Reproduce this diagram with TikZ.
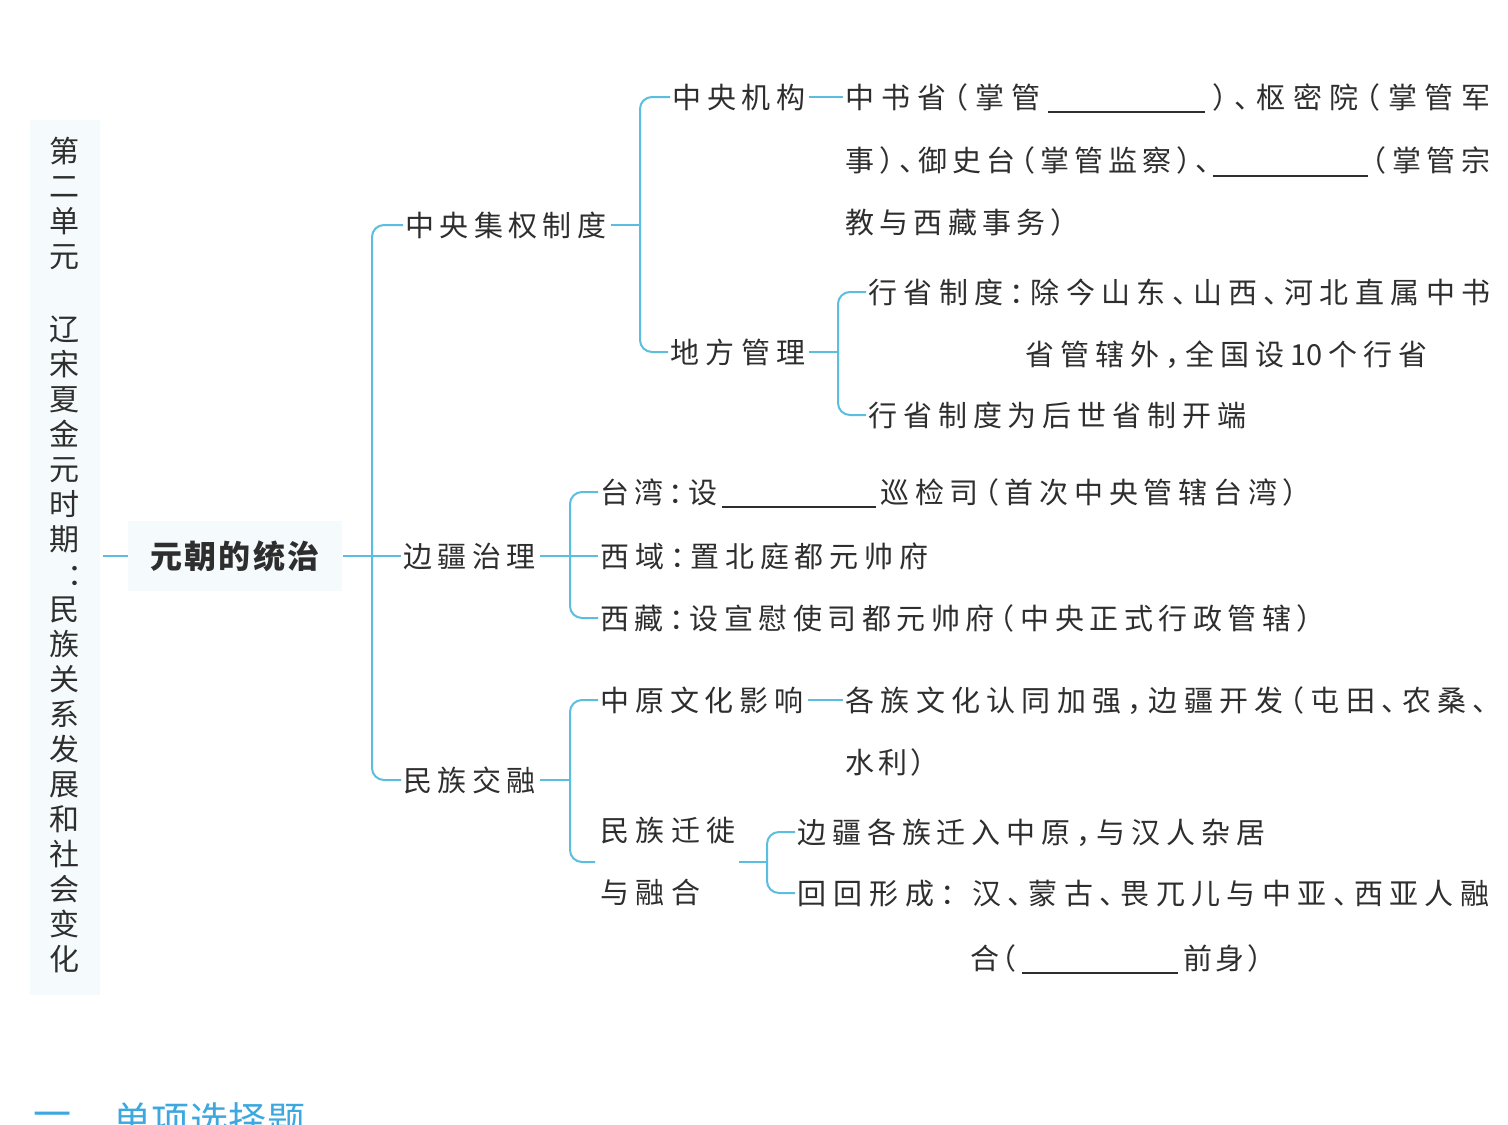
\documentclass[tikz,border=0pt]{standalone}
\usepackage{fontspec}
\newfontfamily\cjk{Noto Sans CJK SC}
\usetikzlibrary{fit}
\definecolor{linec}{HTML}{5BBEE0}
\definecolor{textc}{HTML}{2E2E2E}
\definecolor{stripbg}{HTML}{F5FAFC}
\definecolor{headc}{HTML}{3DA8DF}
\makeatletter
\def\spr#1{\spr@a#1\spr@end}
\def\spr@a#1{#1\spr@b}
\def\spr@b#1{\ifx\spr@end#1\else\hfil#1\expandafter\spr@b\fi}
\def\spr@end{\spr@end@unique}
\makeatother
\newcommand\spbox[2]{\hbox to #1pt{\spr{#2}}}
\def\Rp{\makebox[0.5em][l]{）}}
\def\Lp{\makebox[0.5em][r]{（}}
\def\Dn{\makebox[0.5em][l]{、}}
\def\Mh{\makebox[0.5em][l]{：}}
\def\Cm{\makebox[0.5em][l]{，}}
\def\Ten{10}
\newcommand\bodyfont{\cjk\fontsize{14.5}{17}\selectfont}
\newcommand\titlefont{\cjk\fontsize{15}{17.5}\selectfont}
\begin{document}
\begin{tikzpicture}[x=0.5pt,y=-0.5pt,
  conn/.style={draw=linec, line width=1pt},
  rc/.style={rounded corners=6pt},
  txt/.style={anchor=west, inner sep=0pt, text height=12.76pt, text depth=1.74pt, text=textc, font=\bodyfont},
  blankline/.style={draw=textc, line width=0.7pt},
  head/.style={anchor=west, inner sep=0pt, text=headc, font=\cjk\fontsize{19}{22}\selectfont}]
\useasboundingbox (0,0) rectangle (1508,1124);
\clip (0,0) rectangle (1508,1124);
\fill[white] (0,0) rectangle (1508,1124);

% left strip and title
\node[fill=stripbg, inner sep=0pt, minimum width=35pt, minimum height=437.5pt] (strip) at (65,557.5) {};
\node[anchor=north, inner sep=0pt, align=center, font=\titlefont, text=textc] (title) at (64,137)
  {第\\二\\单\\元\\[19pt]辽\\宋\\夏\\金\\元\\时\\期\\\makebox[15pt][l]{\hspace{9pt}：}\\民\\族\\关\\系\\发\\展\\和\\社\\会\\变\\化};
\node[fill=stripbg, inner sep=0pt, minimum width=107pt, minimum height=35pt, text=textc,
      font=\cjk\bfseries\fontsize{16}{19}\selectfont] (yc) at (235,556) {\spbox{85}{元朝的统治}};

% level 1
\node[txt] (zjq) at (405,225) {\spbox{100.5}{中央集权制度}};
\node[txt] (bj) at (403,556) {\spbox{66}{边疆治理}};
\node[txt] (mzjr) at (403,780) {\spbox{66}{民族交融}};

% central power
\node[txt] (zyjg) at (672,97) {\spbox{66.5}{中央机构}};
\node[txt] (dfgl) at (670,352) {\spbox{67.5}{地方管理}};
\node[txt] (a1) at (845,97) {\spbox{97.5}{中书省\Lp 掌管}};
\node[txt] (a2) at (1212,97) {\spbox{139}{\Rp\Dn 枢密院\Lp 掌管军}};
\node[txt] (b1) at (845,160) {\spbox{182.5}{事\Rp\Dn 御史台\Lp 掌管监察\Rp\Dn}};
\node[txt] (b2) at (1372,160) {\spbox{59}{\Lp 掌管宗}};
\node[txt] (c1) at (845,222) {\spbox{110}{教与西藏事务\Rp}};
\node[txt] (x1) at (868,292) {\spbox{311}{行省制度\Mh 除今山东\Dn 山西\Dn 河北直属中书}};
\node[txt] (x2) at (1025,354) {\spbox{201}{省管辖外\Cm 全国设\Ten 个行省}};
\node[txt] (x3) at (868,415) {\spbox{189}{行省制度为后世省制开端}};

% frontier
\node[txt] (t1) at (600,492) {\spbox{58.5}{台湾\Mh 设}};
\node[txt] (t2) at (880,492) {\spbox{208.5}{巡检司\Lp 首次中央管辖台湾\Rp}};
\node[txt] (xy) at (600,556) {\spbox{164}{西域\Mh 置北庭都元帅府}};
\node[txt] (xz) at (600,618) {\spbox{355.5}{西藏\Mh 设宣慰使司都元帅府\Lp 中央正式行政管辖\Rp}};

% ethnic integration
\node[txt] (zy) at (600,700) {\spbox{101.5}{中原文化影响}};
\node[txt] (g1) at (845,700) {\spbox{321}{各族文化认同加强\Cm 边疆开发\Lp 屯田\Dn 农桑\Dn}};
\node[txt] (g2) at (845,762) {\spbox{40}{水利\Rp}};
\node[txt] (qx1) at (600,830) {\spbox{67.5}{民族迁徙}};
\node[txt] (qx2) at (600,892) {\spbox{50}{与融合}};
\node[fit=(qx1)(qx2), inner sep=0pt] (qx) {};
\node[txt] (e1) at (797,832) {\spbox{234}{边疆各族迁入中原\Cm 与汉人杂居}};
\node[txt] (h1a) at (797,893) {\spbox{79}{回回形成\Mh}};
\node[txt] (h1b) at (972,893) {\spbox{258.5}{汉\Dn 蒙古\Dn 畏兀儿与中亚\Dn 西亚人融}};
\node[txt] (h2a) at (970,958) {\spbox{23}{合\Lp}};
\node[txt] (h2b) at (1183,958) {\spbox{39.5}{前身\Rp}};

% blanks
\draw[blankline] (1048,112) -- (1205,112);
\draw[blankline] (1213,176) -- (1368,176);
\draw[blankline] (722,507) -- (876,507);
\draw[blankline] (1022,973) -- (1178,973);

% connectors
\draw[conn] (strip.east |- yc.west) ++(1.5pt,0) -- (yc.west);
\coordinate (m) at (372,556);
\draw[conn,rc] ([xshift=-1pt]zjq.west) -| (m) |- ([xshift=-1pt]mzjr.west);
\draw[conn] ([xshift=0.5pt]yc.east) -- ([xshift=-1pt]bj.west);

\coordinate (b1) at (640,225);
\draw[conn] ([xshift=2pt]zjq.east) -- (b1);
\draw[conn,rc] ([xshift=-1pt]zyjg.west) -| (b1) |- ([xshift=-1pt]dfgl.west);
\draw[conn] ([xshift=1.5pt]zyjg.east) -- ([xshift=-1pt]a1.west);

\coordinate (b2) at (838,352);
\draw[conn] ([xshift=1.5pt]dfgl.east) -- (b2);
\draw[conn,rc] ([xshift=-1pt]x1.west) -| (b2) |- ([xshift=-1pt]x3.west);

\coordinate (b3) at (570,556);
\draw[conn] ([xshift=2pt]bj.east) -- ([xshift=-1pt]xy.west);
\draw[conn,rc] ([xshift=-1pt]t1.west) -| (b3) |- ([xshift=-1pt]xz.west);

\coordinate (b4) at (570,780);
\coordinate (qend) at (595,862);
\draw[conn] ([xshift=2pt]mzjr.east) -- (b4);
\draw[conn,rc] ([xshift=-1pt]zy.west) -| (b4) |- (qend);
\draw[conn] ([xshift=2pt]zy.east) -- ([xshift=-1pt]g1.west);

\coordinate (b5) at (767,862);
\draw[conn] ([xshift=1.5pt]qx.east |- b5) -- (b5);
\draw[conn,rc] ([xshift=-1pt]e1.west) -| (b5) |- ([xshift=-1pt]h1a.west);

% heading at bottom
\node[head] (hd1) at (33,1120) {一};
\node[head] (hd2) at (113,1120) {\spbox{96}{单项选择题}};
\end{tikzpicture}
\end{document}
